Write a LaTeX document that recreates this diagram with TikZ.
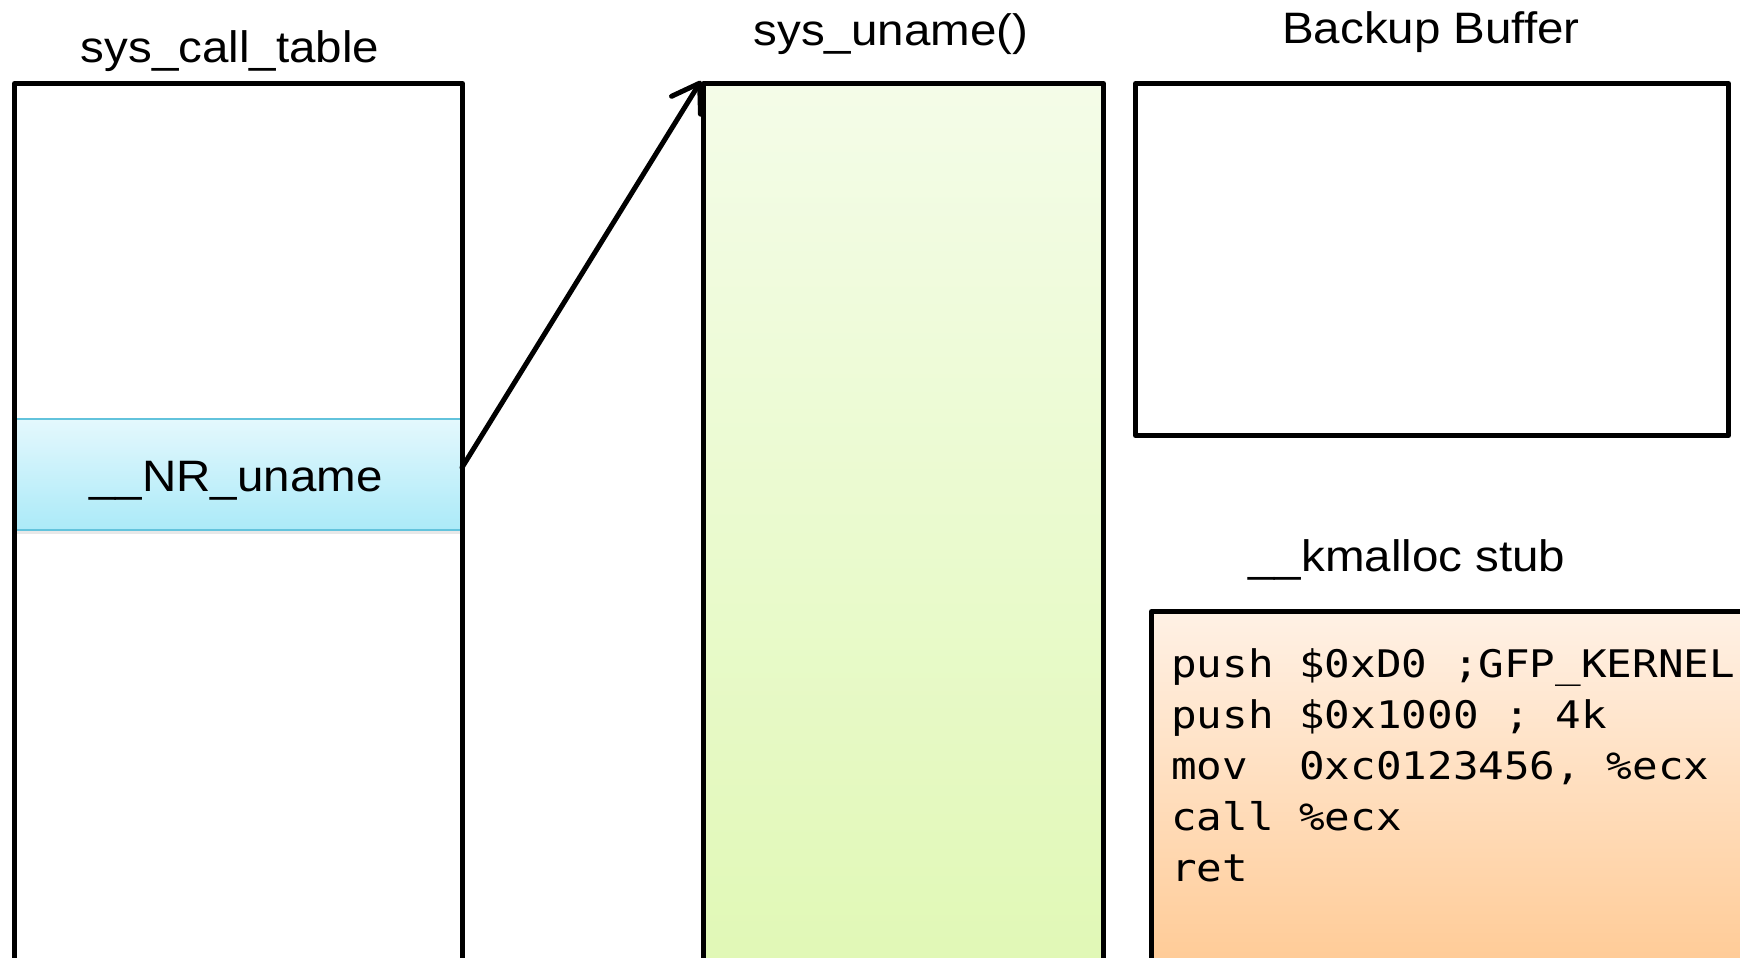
\documentclass[tikz,border=0pt]{standalone}
\usepackage{fontspec}
\setmainfont{Liberation Sans}[FakeStretch=1.08]
\newfontfamily\codefont{DejaVu Sans Mono}[FakeStretch=1.12]
\usetikzlibrary{arrows.meta,shadows}
\definecolor{gtop}{HTML}{F4FCE8}
\definecolor{gbot}{HTML}{DFF8B2}
\definecolor{ctop}{HTML}{E4F8FD}
\definecolor{cbot}{HTML}{ABEAF8}
\definecolor{cline}{HTML}{62C3DC}
\definecolor{otop}{HTML}{FFF1E5}
\definecolor{obot}{HTML}{FFC68C}
\tikzset{
  membox/.style={draw=black, line width=5pt, line join=round, inner sep=0pt, anchor=north west},
  bandbox/.style={draw=cline, line width=2pt, inner sep=0pt, anchor=north west,
    top color=ctop, bottom color=cbot,
    drop shadow={opacity=0.18, shadow xshift=0pt, shadow yshift=-4pt}},
  lbl/.style={font=\fontsize{44}{53}\selectfont, inner sep=0pt, anchor=base},
  codetxt/.style={font=\codefont\fontsize{38}{51}\selectfont, align=left, inner sep=0pt, anchor=north west},
  conn/.style={line width=5pt, line cap=round, -{Straight Barb[length=26pt,width=34pt,line cap=round,line join=round]}}
}
\begin{document}
\begin{tikzpicture}[x=1pt,y=-1pt]
\useasboundingbox (0,0) rectangle (1740,958);
\clip (0,0) rectangle (1740,958);
% cyan band first, box sides drawn over it
\node[bandbox, minimum width=448pt, minimum height=111pt] (nr) at (12,418) {};
\node[lbl] (nrlbl) at (236,491) {\_\_NR\_uname};
\node[membox, minimum width=448pt, minimum height=950pt] (sct) at (12,81) {};
\node[membox, minimum width=400pt, minimum height=950pt, top color=gtop, bottom color=gbot] (sun) at (701,81) {};
\node[membox, minimum width=593pt, minimum height=352pt] (bak) at (1133,81) {};
\node[membox, minimum width=700pt, minimum height=400pt, top color=otop, bottom color=obot] (stub) at (1149,609) {};
% labels
\node[lbl] (l1) at (230,63) {sys\_call\_table};
\node[lbl] (l2) at (891,46) {sys\_uname()};
\node[lbl] (l3) at (1431,44) {Backup Buffer};
\node[lbl] (l4) at (1407,571) {\_\_kmalloc stub};
% code
\node[codetxt] (code) at (1171,648) {push \$0xD0 ;GFP\_KERNEL\\push \$0x1000 ; 4k\\mov~~0xc0123456, \%ecx\\call \%ecx\\ret};
% connector
\coordinate (start) at ([yshift=7pt]nr.east);
\draw[conn] (start) -- (sun.north west);
\end{tikzpicture}
\end{document}
